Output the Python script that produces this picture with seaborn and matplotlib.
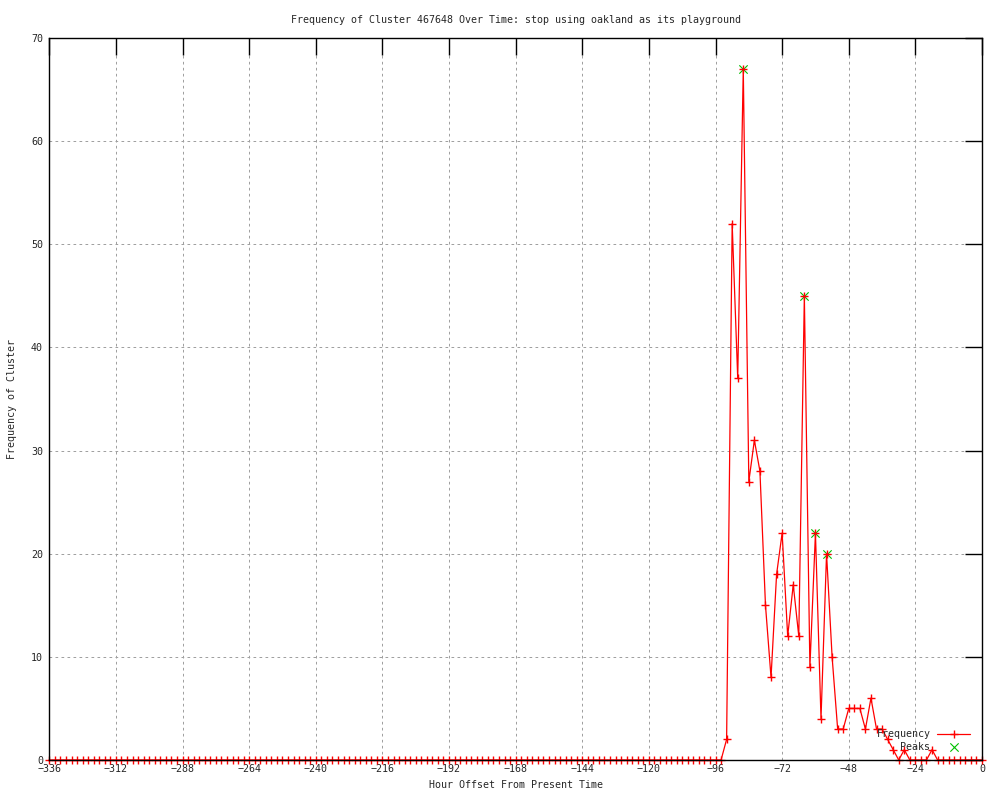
import numpy as np
import pandas as pd
import matplotlib
matplotlib.use("Agg")
import matplotlib.pyplot as plt
import seaborn as sns

# hourly offsets, one sample every 2 hours
hours = np.arange(-336, 1, 2)

# cluster frequency per sample (-336 ... 0)
frequency = [
    0, 0, 0, 0, 0, 0, 0, 0, 0, 0, 0, 0, 0, 0, 0, 0, 0, 0, 0, 0,
    0, 0, 0, 0, 0, 0, 0, 0, 0, 0, 0, 0, 0, 0, 0, 0, 0, 0, 0, 0,
    0, 0, 0, 0, 0, 0, 0, 0, 0, 0, 0, 0, 0, 0, 0, 0, 0, 0, 0, 0,
    0, 0, 0, 0, 0, 0, 0, 0, 0, 0, 0, 0, 0, 0, 0, 0, 0, 0, 0, 0,
    0, 0, 0, 0, 0, 0, 0, 0, 0, 0, 0, 0, 0, 0, 0, 0, 0, 0, 0, 0,
    0, 0, 0, 0, 0, 0, 0, 0, 0, 0, 0, 0, 0, 0, 0, 0, 0, 0, 0, 0,
    0, 0,
    2, 52, 37, 67, 27, 31, 28, 15, 8, 18, 22, 12, 17, 12, 45, 9, 22, 4, 20, 10,
    3, 3, 5, 5, 5, 3, 6, 3, 3, 2, 1, 0, 1, 0, 0, 0, 0, 1,
    0, 0, 0, 0, 0, 0, 0, 0, 0,
]

peak_hours = [-86, -64, -60, -56]
peak_values = [67, 45, 22, 20]

x_ticks = [-336, -312, -288, -264, -240, -216, -192, -168, -144, -120, -96, -72, -48, -24, 0]
y_ticks = [0, 10, 20, 30, 40, 50, 60, 70]

df = pd.DataFrame({"hour": hours, "freq": frequency})
peaks = pd.DataFrame({"hour": peak_hours, "freq": peak_values})

sns.set_style("white")
plt.rcParams["font.family"] = ["DejaVu Sans Mono", "DejaVu Sans"]
plt.rcParams["font.size"] = 7.2

fig = plt.figure(figsize=(10, 8), dpi=100)
ax = fig.add_axes([0.0493, 0.05, 0.9327, 0.9025])

sns.scatterplot(data=peaks, x="hour", y="freq", ax=ax, marker="x", color="#00c000",
                s=36, linewidth=0.8, label="Peaks", zorder=3, clip_on=False)
sns.lineplot(data=df, x="hour", y="freq", ax=ax, color="red", linewidth=0.9,
             marker="+", markersize=5.8, markeredgewidth=1.0, markeredgecolor="red",
             markerfacecolor="red", label="Frequency", zorder=4, clip_on=False)

ax.set_xlim(-336, 0)
ax.set_ylim(0, 70)
ax.set_xticks(x_ticks)
ax.set_yticks(y_ticks)
ax.grid(True, color="#a0a0a0", linewidth=0.72, linestyle=(0, (2.7, 3.3)))
ax.set_axisbelow(True)
ax.tick_params(axis="both", direction="in", length=12, width=1, color="black",
               top=True, right=True, labelsize=7.2)
ax.tick_params(axis="x", pad=3)
ax.tick_params(axis="y", pad=4.5)
for sp in ax.spines.values():
    sp.set_visible(True)
    sp.set_color("black")
    sp.set_linewidth(1)
    sp.set_zorder(5)

ax.set_xlabel("Hour Offset From Present Time", fontsize=7.2, labelpad=4)
ax.set_ylabel("Frequency of Cluster", fontsize=7.2, labelpad=10)
ax.set_title("Frequency of Cluster 467648 Over Time: stop using oakland as its playground",
             fontsize=7.2, pad=11)

handles, labels = ax.get_legend_handles_labels()
order = [labels.index("Frequency"), labels.index("Peaks")]
ax.legend([handles[i] for i in order], [labels[i] for i in order],
          loc="lower right", bbox_to_anchor=(0.993, 0.004), frameon=False,
          markerfirst=False, fontsize=7.2, handlelength=3.3, handletextpad=0.7,
          labelspacing=0.3, borderpad=0)

fig.savefig("out.png", dpi=100)
